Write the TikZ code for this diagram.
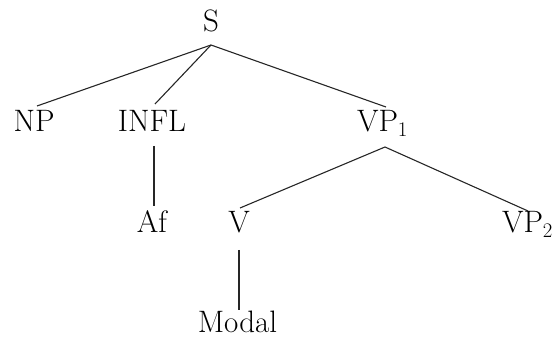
\documentclass[tikz,border=0pt]{standalone}
\begin{document}
\begin{tikzpicture}[x=1pt,y=-1pt,
  lab/.style={anchor=base,inner sep=0pt,font=\fontsize{31}{37}\selectfont},
  edge/.style={line width=1.1pt,color=black!85}]
\useasboundingbox (0,0) rectangle (555,339);
% labels
\node[lab] (S) at (211,32) {S};
\node[lab] (NP) at (34,132) {NP};
\node[lab] (INFL) at (152,132) {INFL};
\node[lab] (VP1) at (382.5,132) {VP$_1$};
\node[lab] (Af) at (152,233) {Af};
\node[lab] (V) at (239,233) {V};
\node[lab] (VP2) at (527.5,233) {VP$_2$};
\node[lab] (Modal) at (237.5,333) {Modal};
% connector end points
\coordinate (S-b) at (211,45);
\coordinate (NP-t) at (37,106);
\coordinate (INFL-t) at (155,104);
\coordinate (VP1-t) at (386,107);
\coordinate (INFL-b) at (154,146);
\coordinate (Af-t) at (154,206);
\coordinate (VP1-b) at (385,147);
\coordinate (V-t) at (240,208);
\coordinate (VP2-t) at (528,211);
\coordinate (V-b) at (239,250);
\coordinate (Modal-t) at (239,310);
% connectors
\draw[edge] (NP-t) -- (S-b) -- (VP1-t);
\draw[edge] (S-b) -- (INFL-t);
\draw[edge] (INFL-b) -- (Af-t);
\draw[edge] (V-t) -- (VP1-b) -- (VP2-t);
\draw[edge] (V-b) -- (Modal-t);
\end{tikzpicture}
\end{document}
